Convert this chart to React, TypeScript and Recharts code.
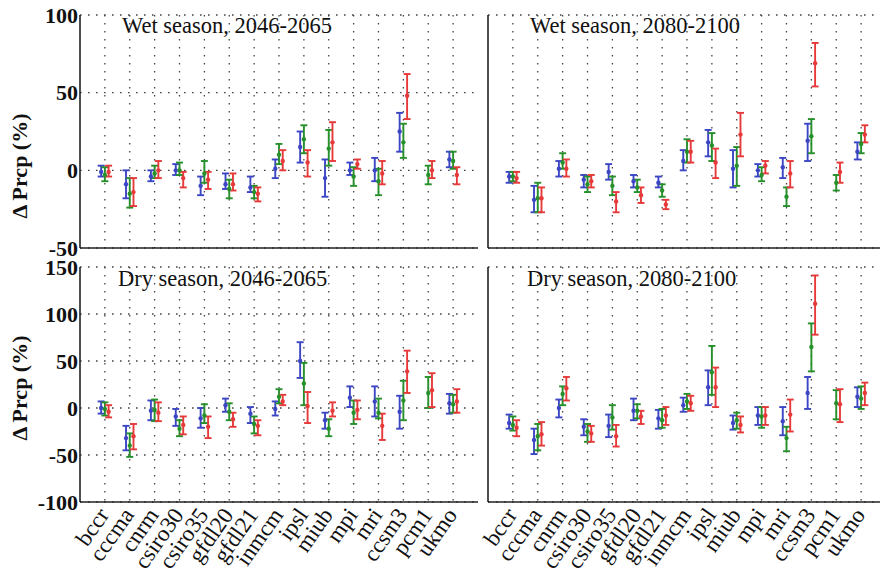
import React from 'react';
import { ScatterChart, Scatter, XAxis, YAxis, CartesianGrid, ErrorBar } from 'recharts';

const models = ['bccr', 'cccma', 'cnrm', 'csiro30', 'csiro35', 'gfdl20', 'gfdl21', 'inmcm', 'ipsl', 'miub', 'mpi', 'mri', 'ccsm3', 'pcm1', 'ukmo'];

type T = [number, number, number] | null; // [centre, low, high]

// Wet season, 2046-2065
const wet1Blue: T[] = [[-1,-4,3],[-9,-18,0],[-4,-7,0],[0,-3,4],[-10,-16,-4],[-9,-12,-2],[-11,-14,-4],[1,-5,7],[15,5,25],[-5,-17,7],[0,-3,5],[0,-7,8],[25,12,37],null,[7,2,12]];
const wet1Green: T[] = [[-3,-7,2],[-15,-24,-5],[-2,-5,3],[0,-3,5],[-2,-8,6],[-12,-18,-6],[-14,-18,-10],[10,4,17],[20,11,29],[14,3,26],[-4,-10,2],[-7,-16,1],[18,8,30],[-3,-9,3],[6,1,12]];
const wet1Red: T[] = [[-1,-4,3],[-14,-23,-5],[0,-5,6],[-5,-11,-1],[-6,-12,-1],[-9,-13,-2],[-15,-20,-11],[6,0,13],[5,-4,13],[18,6,31],[4,1,7],[-2,-9,6],[48,33,62],[0,-5,6],[-3,-9,2]];

// Wet season, 2080-2100
const wet2Blue: T[] = [[-4,-8,-1],[-19,-27,-10],[1,-4,6],[-6,-11,-3],[-1,-6,4],[-7,-11,-3],[-8,-11,-4],[6,0,13],[18,9,26],[1,-11,13],[0,-4,4],[2,-5,8],[19,6,30],null,[12,7,18]];
const wet2Green: T[] = [[-4,-7,-1],[-18,-27,-8],[5,1,11],[-9,-14,-4],[-10,-16,-4],[-11,-14,-6],[-13,-17,-9],[12,5,20],[16,6,24],[3,-10,15],[-3,-7,2],[-17,-23,-11],[22,11,33],[-8,-13,-3],[17,11,24]];
const wet2Red: T[] = [[-5,-8,-1],[-18,-27,-11],[1,-4,7],[-7,-11,-3],[-20,-27,-14],[-16,-21,-11],[-22,-25,-19],[12,5,19],[5,-5,14],[23,9,37],[3,-2,6],[-2,-11,6],[69,54,82],[-1,-8,5],[23,18,29]];

// Dry season, 2046-2065
const dry1Blue: T[] = [[0,-6,7],[-32,-45,-19],[-3,-13,8],[-9,-19,-1],[-11,-21,0],[3,-4,10],[-6,-16,1],[-1,-8,7],[50,32,70],[-13,-22,-5],[11,1,23],[7,-9,23],[-4,-22,13],null,[5,-6,15]];
const dry1Green: T[] = [[-1,-8,6],[-40,-52,-27],[-2,-14,9],[-22,-30,-13],[-8,-16,4],[-4,-13,5],[-17,-27,-9],[12,5,20],[26,3,48],[-22,-30,-12],[-5,-17,8],[-5,-11,10],[8,-13,29],[16,0,33],[4,-5,14]];
const dry1Red: T[] = [[-4,-10,3],[-30,-44,-17],[-5,-14,6],[-18,-28,-9],[-20,-32,-9],[-12,-20,-5],[-19,-29,-13],[7,3,14],[2,-16,17],[-3,-9,6],[-2,-12,8],[-19,-34,-6],[39,16,61],[19,1,37],[7,-5,20]];

// Dry season, 2080-2100
const dry2Blue: T[] = [[-16,-22,-7],[-34,-49,-22],[0,-10,9],[-20,-29,-12],[-19,-31,-7],[-3,-13,10],[-11,-22,-2],[3,-4,11],[22,3,40],[-16,-23,-8],[-8,-18,1],[-14,-29,1],[16,-1,33],null,[12,1,22]];
const dry2Green: T[] = [[-18,-24,-9],[-30,-45,-17],[15,3,23],[-25,-36,-17],[-10,-23,3],[-3,-11,4],[-13,-21,-1],[7,-1,15],[38,14,66],[-13,-22,-5],[-9,-21,1],[-32,-46,-20],[65,39,90],[5,-12,19],[10,-1,23]];
const dry2Red: T[] = [[-21,-30,-13],[-28,-40,-15],[21,8,33],[-27,-36,-19],[-30,-41,-18],[-9,-17,-3],[-8,-18,1],[5,-3,13],[22,1,43],[-18,-26,-9],[-8,-18,1],[-7,-25,9],[111,78,141],[4,-15,20],[16,3,27]];

const wetTicks = [-50, 0, 50, 100];
const dryTicks = [-100, -50, 0, 50, 100, 150];
const xTicks = models.map((_, i) => i);
const xDomain: [number, number] = [-1, 15];

const BLUE = '#3c46c4';
const GREEN = '#26902a';
const RED = '#e63a3a';
const FONT = '"Liberation Serif", "DejaVu Serif", serif';

const build = (arr: T[], off: number) =>
  arr
    .map((v, i) => (v ? { x: i + off, y: v[0], err: [v[0] - v[1], v[2] - v[0]] } : null))
    .filter(Boolean) as { x: number; y: number; err: number[] }[];

const XTick = (props: any) => {
  const { x, y, payload } = props;
  const ax = x + 5;
  const ay = y + 13;
  return (
    <text x={ax} y={ay} transform={`rotate(-55, ${ax}, ${ay})`} textAnchor="end" fontFamily={FONT} fontSize={23} fill="#111">
      {models[payload.value]}
    </text>
  );
};

const dot = (color: string) => (p: any) => <circle cx={p.cx} cy={p.cy} r={2.2} fill={color} />;

// vertical dotted grid only at the model ticks (not at the plot's right edge)
const vGen = (args: any) => {
  const ax = args && args.xAxis;
  if (ax && typeof ax.scale === 'function') return xTicks.map((t) => ax.scale(t));
  const o = args && args.offset;
  if (o && typeof o.left === 'number' && typeof o.width === 'number') {
    const span = xDomain[1] - xDomain[0];
    return xTicks.map((t) => o.left + ((t - xDomain[0]) / span) * o.width);
  }
  return [];
};

type PanelProps = {
  left: number;
  top: number;
  height: number;
  xHeight: number;
  domain: [number, number];
  ticks: number[];
  showY: boolean;
  showX: boolean;
  series: [T[], T[], T[]];
};

const Panel = ({ left, top, height, xHeight, domain, ticks, showY, showX, series }: PanelProps) => {
  const colors = [BLUE, GREEN, RED];
  const offs = [-0.15, 0, 0.15];
  return (
    <div style={{ position: 'absolute', left, top }}>
      <ScatterChart width={490} height={height} margin={{ top: 15, right: 12, bottom: 0, left: 0 }}>
        <CartesianGrid stroke="#444" strokeDasharray="1.6 6.4" strokeWidth={1.3} verticalCoordinatesGenerator={vGen} />
        <XAxis
          type="number"
          dataKey="x"
          domain={xDomain}
          ticks={xTicks}
          interval={0}
          allowDataOverflow
          height={xHeight}
          axisLine={{ stroke: '#222', strokeWidth: 1.6 }}
          tickLine={false}
          tickSize={0}
          tickMargin={0}
          tick={showX ? <XTick /> : false}
        />
        <YAxis
          type="number"
          dataKey="y"
          domain={domain}
          ticks={ticks}
          interval={0}
          allowDataOverflow
          width={80}
          axisLine={{ stroke: '#222', strokeWidth: 1.6 }}
          tickLine={false}
          tickSize={2}
          tickMargin={0}
          tick={showY ? { fontFamily: FONT, fontSize: 22, fontWeight: 'bold', fill: '#111' } : false}
        />
        {series.map((s, k) => (
          <Scatter key={k} data={build(s, offs[k])} isAnimationActive={false} shape={dot(colors[k])}>
            <ErrorBar dataKey="err" direction="y" width={3.5} stroke={colors[k]} strokeWidth={1.9} />
          </Scatter>
        ))}
      </ScatterChart>
    </div>
  );
};

export default function App() {
  return (
    <div style={{ position: 'absolute', left: 0, top: 0, width: 880, height: 580, overflow: 'hidden', background: '#fff' }}>
      <Panel left={0} top={0} height={260} xHeight={12} domain={[-50, 100]} ticks={wetTicks} showY showX={false} series={[wet1Blue, wet1Green, wet1Red]} />
      <Panel left={408} top={0} height={260} xHeight={12} domain={[-50, 100]} ticks={wetTicks} showY={false} showX={false} series={[wet2Blue, wet2Green, wet2Red]} />
      <Panel left={0} top={252} height={328} xHeight={78} domain={[-100, 150]} ticks={dryTicks} showY showX series={[dry1Blue, dry1Green, dry1Red]} />
      <Panel left={408} top={252} height={328} xHeight={78} domain={[-100, 150]} ticks={dryTicks} showY={false} showX series={[dry2Blue, dry2Green, dry2Red]} />
      <svg width={880} height={580} style={{ position: 'absolute', left: 0, top: 0, pointerEvents: 'none' }}>
        <g fontFamily={FONT} fontSize={22.5} fill="#111">
          <text x={122} y={33}>Wet season, 2046-2065</text>
          <text x={530} y={33}>Wet season, 2080-2100</text>
          <text x={118} y={286}>Dry season, 2046-2065</text>
          <text x={527} y={286}>Dry season, 2080-2100</text>
        </g>
        <g fontFamily={FONT} fontSize={22} fill="#111" fontWeight="bold">
          <text x={27} y={166} transform="rotate(-90, 27, 166)" textAnchor="middle">Δ Prcp (%)</text>
          <text x={27} y={388} transform="rotate(-90, 27, 388)" textAnchor="middle">Δ Prcp (%)</text>
        </g>
      </svg>
    </div>
  );
}
